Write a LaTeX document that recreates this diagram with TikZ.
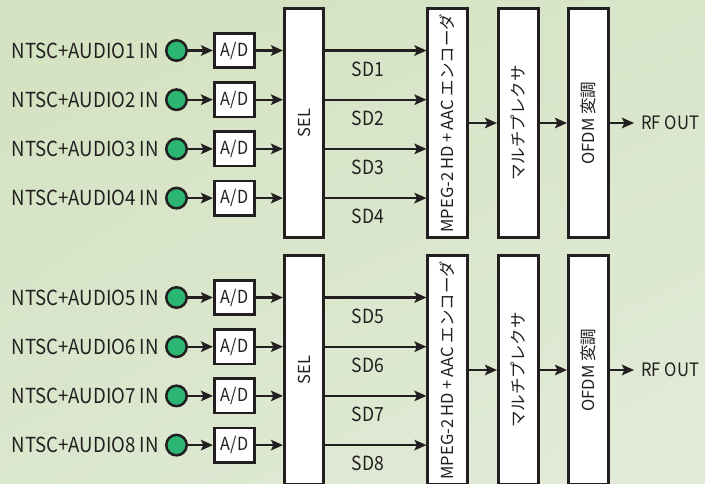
\documentclass[tikz,border=0pt]{standalone}
\usepackage{fontspec}
\setmainfont{Noto Sans CJK JP}
\newfontfamily\latf{Noto Sans CJK JP}[FakeStretch=0.9]
\usetikzlibrary{arrows.meta,calc,shadings}
\definecolor{ink}{HTML}{231F20}
\definecolor{dot}{HTML}{2BB673}
\definecolor{bgTL}{HTML}{D3E2C0}
\definecolor{bgTR}{HTML}{D8E5C9}
\definecolor{bgBL}{HTML}{DBE6CE}
\definecolor{bgBR}{HTML}{E2EBD8}
\begin{document}
\begin{tikzpicture}[x=1pt,y=-1pt,
  box/.style={draw=ink, line width=2.6pt, fill=white, inner sep=0pt, text=ink},
  adbox/.style={box, minimum width=40.5pt, minimum height=34.5pt, font=\latf\fontsize{18}{20}\selectfont},
  tallbox/.style={box, minimum width=39.5pt, minimum height=229.5pt, font=\fontsize{16.5}{20}\selectfont},
  arr/.style={draw=ink, line width=2.3pt, -{Stealth[length=12pt,width=10.5pt,inset=2.5pt]}},
  jack/.style={circle, draw=ink, line width=2.5pt, fill=dot, minimum size=20.5pt, inner sep=0pt},
  inlabel/.style={anchor=east, inner sep=0pt, text=ink, font=\latf\fontsize{20.7}{24}\selectfont},
  sdlabel/.style={inner sep=0pt, text=ink, font=\latf\fontsize{19.5}{23}\selectfont},
  outlabel/.style={anchor=west, inner sep=0pt, text=ink, font=\latf\fontsize{18.5}{23}\selectfont}]
\clip (0,0) rectangle (705,483);
\shade[upper left=bgTL, upper right=bgTR, lower left=bgBL, lower right=bgBR] (0,0) rectangle (705,483);
\foreach \g in {0,1} {
  \pgfmathsetmacro\off{\g*247}
  \node[tallbox] (sel\g) at (304,123+\off) {\rotatebox{90}{SEL}};
  \node[tallbox] (enc\g) at (447.5,123+\off) {\rotatebox{90}{MPEG-2\,HD + AAC エンコーダ}};
  \node[tallbox, minimum width=40.5pt] (mux\g) at (518.5,123+\off) {\rotatebox{90}{マルチプレクサ}};
  \node[tallbox, minimum width=40.5pt] (ofdm\g) at (588.5,123+\off) {\rotatebox{90}{OFDM 変調}};
  \node[outlabel] (rf\g) at (641,123+\off) {RF OUT};
  \draw[arr] (enc\g) -- (mux\g);
  \draw[arr] (mux\g) -- (ofdm\g);
  \draw[arr, shorten >=7pt] (ofdm\g) -- (rf\g.west);
  \foreach \i in {1,...,4} {
    \pgfmathtruncatemacro\n{4*\g+\i}
    \pgfmathsetmacro\yy{50.5+49.2*(\i-1)+\off}
    \node[inlabel] (in\n) at (159,\yy) {NTSC+AUDIO\n\ IN};
    \node[jack] (c\n) at (176.5,\yy) {};
    \node[adbox] (ad\n) at (234.5,\yy) {A/D};
    \draw[arr] (c\n) -- (ad\n);
    \draw[arr] (ad\n) -- (ad\n -| sel\g.west);
    \draw[arr] (ad\n -| sel\g.east) -- (ad\n -| enc\g.west);
    \node[sdlabel] (sd\n) at (368,\yy+18.5) {SD\n};
  }
}
\end{tikzpicture}
\end{document}
